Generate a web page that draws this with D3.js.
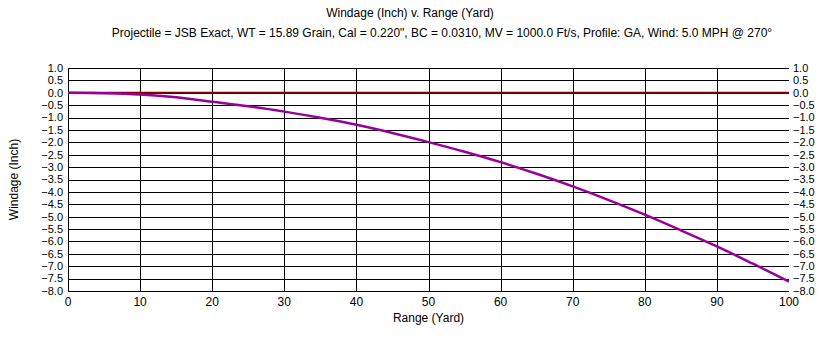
<!DOCTYPE html>
<html>
<head>
<meta charset="utf-8">
<script src="https://cdn.jsdelivr.net/npm/d3@7"></script>
<style>
  body { margin: 0; background: #fff; }
  svg text { font-family: "Liberation Sans", Arial, sans-serif; fill: #000; }
</style>
</head>
<body>
<div id="chart"></div>
<script>
// Chart data
const titleText = 'Windage (Inch) v. Range (Yard)';
const subtitleText = 'Projectile = JSB Exact, WT = 15.89 Grain, Cal = 0.220", BC = 0.0310, MV = 1000.0 Ft/s, Profile: GA, Wind: 5.0 MPH @ 270°';
const rangeYards = [0, 5, 10, 15, 20, 25, 30, 35, 40, 45, 50, 55, 60, 65, 70, 75, 80, 85, 90, 95, 100];
const windageInch = [0, -0.02, -0.07, -0.18, -0.36, -0.54, -0.76, -1.01, -1.29, -1.62, -1.99, -2.38, -2.8, -3.27, -3.78, -4.33, -4.92, -5.55, -6.2, -6.9, -7.62];
const xTicks = [0, 10, 20, 30, 40, 50, 60, 70, 80, 90, 100];
const yTicks = [1.0, 0.5, 0.0, -0.5, -1.0, -1.5, -2.0, -2.5, -3.0, -3.5, -4.0, -4.5, -5.0, -5.5, -6.0, -6.5, -7.0, -7.5, -8.0];

const W = 833, H = 353;
const margin = { top: 68, right: 44, bottom: 62, left: 68 };
const width = W - margin.left - margin.right;
const height = H - margin.top - margin.bottom;

const svg = d3.select('#chart').append('svg')
    .attr('width', W)
    .attr('height', H);

// Titles
svg.append('text')
    .attr('x', 410).attr('y', 17)
    .attr('text-anchor', 'middle')
    .style('font-size', '12px')
    .text(titleText);

svg.append('text')
    .attr('x', 442).attr('y', 37)
    .attr('text-anchor', 'middle')
    .style('font-size', '12px')
    .text(subtitleText);

const g = svg.append('g')
    .attr('transform', `translate(${margin.left},${margin.top})`);

const x = d3.scaleLinear().domain([0, 100]).range([0, width]);
const y = d3.scaleLinear().domain([-8, 1]).range([height, 0]);

// Horizontal grid
g.append('g')
    .selectAll('line')
    .data(yTicks)
    .join('line')
    .attr('x1', 0).attr('x2', width)
    .attr('y1', d => Math.round(y(d)) + 0.5)
    .attr('y2', d => Math.round(y(d)) + 0.5)
    .attr('stroke', '#000')
    .attr('stroke-width', 1);

// Vertical grid (incl. left axis)
g.append('g')
    .selectAll('line')
    .data(xTicks.filter(d => d < 100))
    .join('line')
    .attr('x1', d => Math.round(x(d)) + 0.5)
    .attr('x2', d => Math.round(x(d)) + 0.5)
    .attr('y1', 0).attr('y2', height)
    .attr('stroke', '#000')
    .attr('stroke-width', 1);

// Zero line
g.append('line')
    .attr('x1', 0).attr('x2', width)
    .attr('y1', y(0)).attr('y2', y(0))
    .attr('stroke', '#800000')
    .attr('stroke-width', 2);

// Left and right tick labels
const yFmt = d3.format('.1f');
g.append('g')
    .selectAll('text')
    .data(yTicks)
    .join('text')
    .attr('x', -5)
    .attr('y', d => y(d))
    .attr('dy', '0.35em')
    .attr('text-anchor', 'end')
    .style('font-size', '11px')
    .text(d => yFmt(d));

g.append('g')
    .selectAll('text')
    .data(yTicks)
    .join('text')
    .attr('x', width + 4)
    .attr('y', d => y(d))
    .attr('dy', '0.35em')
    .attr('text-anchor', 'start')
    .style('font-size', '11px')
    .text(d => yFmt(d));

// Bottom tick labels
g.append('g')
    .selectAll('text')
    .data(xTicks)
    .join('text')
    .attr('x', d => x(d))
    .attr('y', height + 15)
    .attr('text-anchor', 'middle')
    .style('font-size', '12px')
    .text(d => d);

// Axis titles
g.append('text')
    .attr('x', width / 2)
    .attr('y', height + 31)
    .attr('text-anchor', 'middle')
    .style('font-size', '12px')
    .text('Range (Yard)');

g.append('text')
    .attr('transform', 'rotate(-90)')
    .attr('x', -height / 2)
    .attr('y', -50)
    .attr('text-anchor', 'middle')
    .style('font-size', '12px')
    .text('Windage (Inch)');

// Windage curve
const line = d3.line()
    .x((d, i) => x(rangeYards[i]))
    .y(d => y(d))
    .curve(d3.curveMonotoneX);

g.append('path')
    .datum(windageInch)
    .attr('fill', 'none')
    .attr('stroke', '#990099')
    .attr('stroke-width', 2.5)
    .attr('d', line);
</script>
</body>
</html>
